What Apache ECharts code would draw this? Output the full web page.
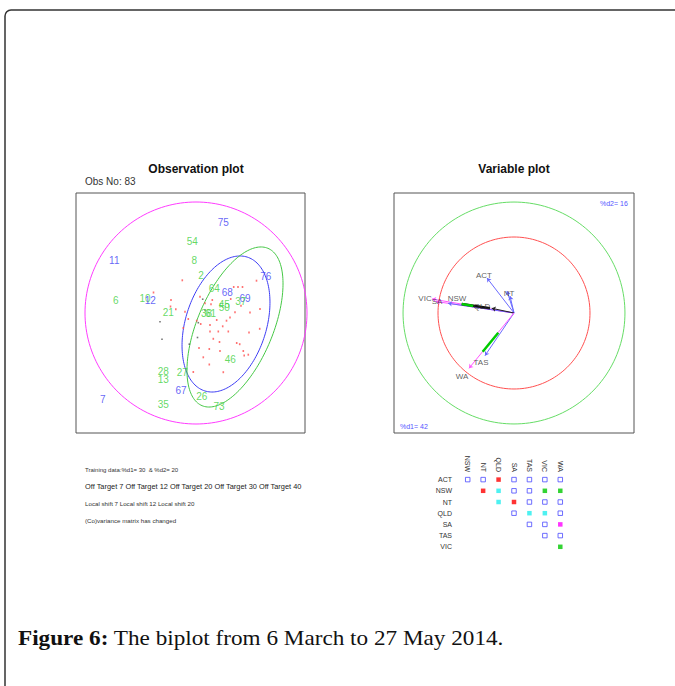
<!DOCTYPE html>
<html>
<head>
<meta charset="utf-8">
<script src="https://cdn.jsdelivr.net/npm/echarts@6/dist/echarts.min.js"></script>
<style>
  html, body { margin: 0; padding: 0; background: #fff; }
  #chart { width: 675px; height: 686px; }
</style>
</head>
<body>
<div id="chart"></div>
<script>
// ---- Observation plot: labelled observations (scores on d1, d2) ----
const obsIds = ['75','54','11','8','2','76','64','68','69','37','6','10','12','21','45','50','38','61','46','28','13','27','67','7','26','35','73'];
const obsX   = [2.73,-0.37,-8.17,-0.17,0.5,6.97,1.83,3.13,4.9,4.47,-8.03,-5.1,-4.57,-2.77,2.83,2.83,1.05,1.45,3.43,-3.27,-3.27,-1.37,-1.5,-9.33,0.57,-3.27,2.3];
const obsY   = [9.07,7.2,5.3,5.23,3.8,3.63,2.47,2.1,1.45,1.13,1.3,1.47,1.3,0.07,0.87,0.57,-0.03,-0.03,-4.6,-5.87,-6.63,-5.93,-7.7,-8.63,-8.37,-9.13,-9.37];
const obsSet = ['A','B','A','B','B','A','B','A','A','B','B','B','A','B','B','B','B','B','B','B','B','B','A','A','B','B','B'];

// unlabelled training observations
const trainX = [-1.37,0.4,-4.25,6.05,3.77,4.2,4.65,-2.5,-2.55,-2.02,-1.1,-1.27,-0.77,0.07,0.47,0.9,1.5,1.63,3.47,4.5,5.4,6.4,3.9,3.4,3.05,2.07,2.67,3.23,1.4,1.4,2.23,5.3,6.37,1.73,2.35,0.3,1.33,4.07,4.37,2.4,4.73,4.82,5.23,0.73,1.33,-0.27,2.73];
const trainY = [3.27,1.63,2.05,3.23,2.6,2.6,2.6,1.3,0.65,0.37,0.13,-1.5,-0.6,-0.77,-1.1,0.97,0.87,1.3,1.4,0.73,0.05,0.4,0.07,-0.45,-0.77,-0.7,-1.33,-1.85,-1.2,-1.85,-1.85,-1.95,-1.58,-2.58,-2.9,-3.5,-3.6,-3.0,-3.12,-3.8,-3.8,-4.25,-4.17,-4.43,-5.15,-5.9,-5.92];
const otherX = [-3.6,-3.4,-0.67,0.15,0.23,0.67,0.9];
const otherY = [-0.87,-2.62,-3.12,-2.45,-0.97,1.38,0.3];

// control ellipses: centre, semi-axes, rotation (degrees)
const ellCx    = [3.0, 3.9, 0];
const ellCy    = [-1.1, -1.4, 0];
const ellA     = [7.02, 8.53, 11.1];
const ellB     = [4.04, 3.79, 11.1];
const ellAngle = [72.4, 67.3, 0];

// ---- Variable plot: variable vectors ----
const vecX    = [-0.355,-0.053,-0.092,-1.079,-1.026,-0.868,-0.293,-0.382,-0.592];
const vecY    = [0.46,0.224,0.29,0.184,0.151,0.128,0.062,-0.561,-0.728];
const vecKind = ['b','b','b','m','m','b','k','b','m'];
const varNames = ['ACT','NT','VIC','SA','NSW','QLD','TAS','WA'];
const varLabX  = [-0.395,-0.066,-1.171,-1.013,-0.75,-0.421,-0.434,-0.684];
const varLabY  = [0.5,0.257,0.197,0.145,0.191,0.092,-0.645,-0.842];
// overlaid shift segments [x0, y0, x1, y1]
const segBlack = [[-0.688,0.118,-0.316,0.062]];
const segGreen = [[-0.688,0.118,-0.536,0.092],[-0.412,-0.509,-0.207,-0.259]];
const varCircleR = [1.46, 1.0];

// ---- Pairwise matrix ----
const matrixRows = ['ACT','NSW','NT','QLD','SA','TAS','VIC'];
const matrixCols = ['NSW','NT','QLD','SA','TAS','VIC','WA'];
const matrixStates = [
  ['o','o','r','o','o','o','o'],
  ['', 'r','c','o','o','g','g'],
  ['', '', 'c','r','o','o','o'],
  ['', '', '', 'o','c','c','o'],
  ['', '', '', '', 'o','o','m'],
  ['', '', '', '', '', 'o','o'],
  ['', '', '', '', '', '', 'g']
];

// ---- styles ----
const BLUE = '#3d3df5', GREEN = '#3ccf3c', PINK = '#ff3cff';
const setColor = { A: BLUE, B: GREEN };
const kindColor = { b: '#6a6aff', m: '#ff55ff', k: '#222222' };
const ellColor = [BLUE, '#45c845', PINK];
const cellColor = { r: '#ff0000', c: '#22eeee', g: '#00c800', m: '#ff00ff' };

function ellipseItem(params, api) {
  const cx = api.value(0), cy = api.value(1), a = api.value(2), b = api.value(3);
  const ang = api.value(4) * Math.PI / 180;
  const pts = [];
  for (let k = 0; k <= 180; k++) {
    const t = 2 * Math.PI * k / 180;
    const ex = a * Math.cos(t), ey = b * Math.sin(t);
    pts.push(api.coord([cx + ex * Math.cos(ang) - ey * Math.sin(ang),
                        cy + ex * Math.sin(ang) + ey * Math.cos(ang)]));
  }
  return { type: 'polyline', shape: { points: pts },
           style: { stroke: api.visual('color'), fill: 'none', lineWidth: 1 } };
}

const hiddenValue = (min, max, idx) => ({
  type: 'value', gridIndex: idx, min, max, show: false, splitLine: { show: false }
});

const obsLabelData = obsIds.map((id, i) => ({
  name: id, value: [obsX[i], obsY[i]],
  label: { color: setColor[obsSet[i]] }
}));

const cellSeries = ['o','r','c','g','m'].map(st => {
  const data = [];
  matrixStates.forEach((row, r) => row.forEach((s, c) => {
    if (s === st) data.push([matrixCols[c], matrixRows[r]]);
  }));
  return {
    type: 'scatter', xAxisIndex: 2, yAxisIndex: 2, symbol: 'rect',
    symbolSize: 4.5,
    itemStyle: st === 'o'
      ? { color: '#ffffff', borderColor: '#4a4aff', borderWidth: 1 }
      : { color: cellColor[st] },
    silent: true, data
  };
});

const sans = 'Arial, "Liberation Sans", sans-serif';
function txt(text, x, y, size, opts) {
  return Object.assign({ type: 'text', x, y, silent: true,
    style: Object.assign({ text, fontFamily: sans, fontSize: size, fill: '#222',
      textAlign: 'left', textVerticalAlign: 'middle' }, opts || {}) });
}

const chart = echarts.init(document.getElementById('chart'), null, { renderer: 'svg' });
chart.setOption({
  animation: false,
  backgroundColor: '#ffffff',
  grid: [
    { left: 76, top: 193, width: 229, height: 240, show: true, borderColor: '#555', borderWidth: 1, backgroundColor: 'transparent' },
    { left: 394, top: 193, width: 240, height: 240, show: true, borderColor: '#555', borderWidth: 1, backgroundColor: 'transparent' },
    { left: 460, top: 474, width: 108, height: 78.4 }
  ],
  xAxis: [
    hiddenValue(-12.0, 10.9, 0),
    hiddenValue(-1.579, 1.579, 1),
    { type: 'category', gridIndex: 2, data: matrixCols, position: 'top',
      axisLine: { show: false }, axisTick: { show: false }, splitLine: { show: false },
      axisLabel: { rotate: 90, fontSize: 7, color: '#333', margin: 2, fontFamily: sans } }
  ],
  yAxis: [
    hiddenValue(-12, 12, 0),
    hiddenValue(-1.579, 1.579, 1),
    { type: 'category', gridIndex: 2, data: matrixRows, inverse: true,
      axisLine: { show: false }, axisTick: { show: false }, splitLine: { show: false },
      axisLabel: { fontSize: 7, color: '#333', margin: 8, fontFamily: sans } }
  ],
  series: [
    // observation plot
    { type: 'custom', xAxisIndex: 0, yAxisIndex: 0, renderItem: ellipseItem, silent: true,
      data: ellCx.map((c, i) => ({ value: [c, ellCy[i], ellA[i], ellB[i], ellAngle[i]], itemStyle: { color: ellColor[i] } })) },
    { type: 'scatter', xAxisIndex: 0, yAxisIndex: 0, symbol: 'rect', symbolSize: [1.6, 2],
      itemStyle: { color: '#ff5050' }, silent: true, data: trainX.map((x, i) => [x, trainY[i]]) },
    { type: 'scatter', xAxisIndex: 0, yAxisIndex: 0, symbol: 'rect', symbolSize: [1.6, 1.6],
      itemStyle: { color: '#555' }, silent: true, data: otherX.map((x, i) => [x, otherY[i]]) },
    { type: 'scatter', xAxisIndex: 0, yAxisIndex: 0, symbolSize: 0, silent: true,
      label: { show: true, position: 'inside', formatter: p => p.name, fontSize: 10, fontFamily: sans },
      data: obsLabelData },
    // variable plot
    { type: 'custom', xAxisIndex: 1, yAxisIndex: 1, renderItem: ellipseItem, silent: true,
      data: varCircleR.map((r, i) => ({ value: [0, 0, r, r, 0], itemStyle: { color: i === 0 ? '#66dd66' : '#ff5050' } })) },
    { type: 'lines', coordinateSystem: 'cartesian2d', xAxisIndex: 1, yAxisIndex: 1,
      symbol: ['none', 'arrow'], symbolSize: 4, silent: true, lineStyle: { width: 1, opacity: 1 },
      data: vecX.map((x, i) => ({ coords: [[0, 0], [x, vecY[i]]], lineStyle: { color: kindColor[vecKind[i]] } })) },
    { type: 'lines', coordinateSystem: 'cartesian2d', xAxisIndex: 1, yAxisIndex: 1, silent: true,
      lineStyle: { width: 2.5, color: '#111', opacity: 1 },
      data: segBlack.map(s => ({ coords: [[s[0], s[1]], [s[2], s[3]]] })) },
    { type: 'lines', coordinateSystem: 'cartesian2d', xAxisIndex: 1, yAxisIndex: 1, silent: true,
      lineStyle: { width: 2.5, color: '#00cc00', opacity: 1 },
      data: segGreen.map(s => ({ coords: [[s[0], s[1]], [s[2], s[3]]] })) },
    { type: 'scatter', xAxisIndex: 1, yAxisIndex: 1, symbolSize: 0, silent: true,
      label: { show: true, position: 'inside', formatter: p => p.name, fontSize: 8, color: '#333', fontFamily: sans },
      data: varNames.map((n, i) => ({ name: n, value: [varLabX[i], varLabY[i]] })) },
    // pairwise matrix
    ...cellSeries
  ],
  graphic: [
    { type: 'rect', shape: { x: 5, y: 10, width: 720, height: 720, r: 6 }, silent: true,
      style: { fill: 'none', stroke: '#333', lineWidth: 1.5 } },
    txt('Observation plot', 196, 169, 12, { fontWeight: 'bold', textAlign: 'center', fill: '#111' }),
    txt('Variable plot', 514, 169, 12, { fontWeight: 'bold', textAlign: 'center', fill: '#111' }),
    txt('Obs No: 83', 85, 181, 10, { fill: '#333' }),
    txt('%d2= 16', 600, 203.5, 7, { fill: '#5555ff' }),
    txt('%d1= 42', 400, 426, 7, { fill: '#5555ff' }),
    txt('Training data:%d1= 30  & %d2= 20', 85, 470, 6, { fill: '#333' }),
    txt('Off Target 7 Off Target 12 Off Target 20 Off Target 30 Off Target 40', 85, 486.5, 7.4, { fill: '#222' }),
    txt('Local shift 7 Local shift 12 Local shift 20', 85, 503.3, 6.2, { fill: '#333' }),
    txt('(Co)variance matrix has changed', 85, 520, 6.2, { fill: '#333' }),
    { type: 'text', x: 18, y: 638, scaleX: 1.105, silent: true,
      style: { text: '{b|Figure 6:} The biplot from 6 March to 27 May 2014.',
        fontFamily: '"Liberation Serif", "DejaVu Serif", serif', fontSize: 21, fill: '#111',
        textVerticalAlign: 'middle',
        rich: { b: { fontWeight: 'bold', fontFamily: '"Liberation Serif", serif', fontSize: 21, fill: '#111' } } } }
  ]
});
</script>
</body>
</html>
